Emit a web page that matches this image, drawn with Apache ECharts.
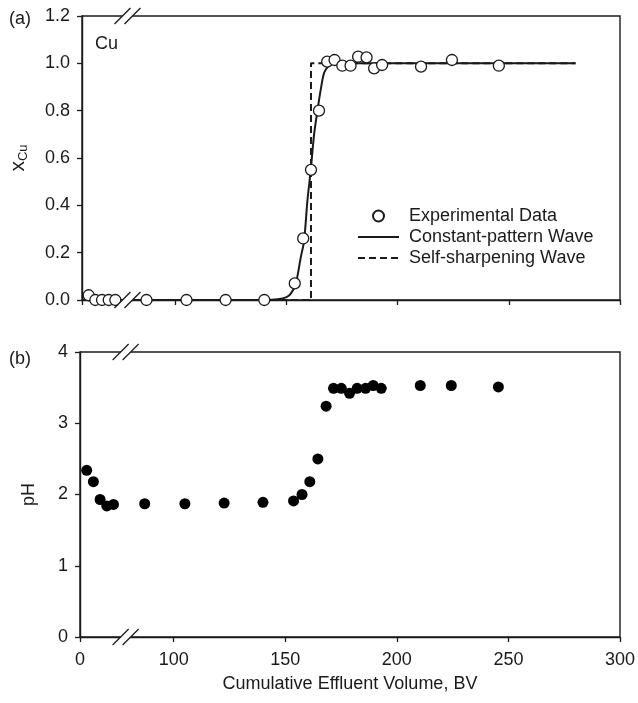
<!DOCTYPE html>
<html>
<head>
<meta charset="utf-8">
<script src="https://cdn.jsdelivr.net/npm/echarts@6.0.0/dist/echarts.min.js"></script>
<style>
  html, body { margin: 0; padding: 0; background: #fff; }
  #chart { width: 638px; height: 703px; }
</style>
</head>
<body>
<div id="chart"></div>
<script>
// sampled volumes (BV), shared by both panels
const volumeBV = [3, 6, 9, 12, 15, 87, 105, 122.6, 140, 153.7, 157.5, 161, 164.6, 168.3, 171.6, 175.1, 178.8, 182.2, 186, 189.4, 193, 210.5, 224.4, 245.5]
const xCuData = [0.02, 0, 0, 0, 0, 0, 0, 0, 0, 0.07, 0.26, 0.55, 0.80, 1.007, 1.014, 0.99, 0.99, 1.028, 1.025, 0.979, 0.993, 0.986, 1.014, 0.99]
const pHData = [2.34, 2.18, 1.93, 1.84, 1.86, 1.87, 1.87, 1.88, 1.89, 1.91, 2.0, 2.18, 2.5, 3.24, 3.49, 3.49, 3.42, 3.49, 3.49, 3.53, 3.49, 3.53, 3.53, 3.51]

// constant-pattern wave
const curveBV = [0, 20, 78, 140, 146, 150, 152, 154.2, 156.4, 157.9, 159.4, 160.9, 162.4, 163.9, 165.4, 166.9, 168.6, 170.6, 173, 280]
const curveX = [0, 0, 0, 0, 0.003, 0.012, 0.028, 0.07, 0.18, 0.25, 0.42, 0.55, 0.70, 0.80, 0.89, 0.96, 0.985, 0.997, 1.0, 1.0]

// self-sharpening wave
const sharpBV = [0, 20, 78, 161, 161, 280]
const sharpX = [0, 0, 0, 0, 1, 1]

const xTickLabels = [0, 100, 150, 200, 250, 300]

// broken x axis: 0-20 BV kept, 20-78 BV cut out
const BREAK_LO = 20
const BREAK_GAP = 58
function toAxis(v) {
  return v <= BREAK_LO ? v : v - BREAK_GAP
}
function fromAxis(a) {
  return a <= BREAK_LO ? a : a + BREAK_GAP
}
const pts = (xs, ys) => xs.map((x, i) => [toAxis(x), ys[i]])

const font = 'Liberation Sans, Arial, sans-serif'
const ink = '#1a1a1a'
const tickVals = xTickLabels.map(toAxis)

const chart = echarts.init(document.getElementById('chart'))

function xAxisCfg(idx, showLabels) {
  return {
    type: 'value',
    gridIndex: idx,
    min: 0,
    max: toAxis(300),
    splitLine: { show: false },
    axisLine: { lineStyle: { color: ink, width: 1.4 } },
    axisTick: { length: 5, customValues: tickVals, lineStyle: { color: ink, width: 1.3 } },
    axisLabel: {
      show: showLabels,
      customValues: tickVals,
      formatter: v => String(Math.round(fromAxis(v))),
      color: ink, fontSize: 18, fontFamily: font, margin: 14
    },
    name: showLabels ? 'Cumulative Effluent Volume, BV' : '',
    nameLocation: 'middle',
    nameGap: 38,
    nameTextStyle: { color: ink, fontSize: 18, fontFamily: font }
  }
}

const hideIcon = { opacity: 0 }

chart.setOption({
  animation: false,
  backgroundColor: '#fff',
  textStyle: { fontFamily: font },
  title: [
    { text: '(a)', left: 4, top: 5, textStyle: { fontSize: 18, fontWeight: 'normal', color: ink, fontFamily: font } },
    { text: '(b)', left: 4, top: 345, textStyle: { fontSize: 18, fontWeight: 'normal', color: ink, fontFamily: font } },
    { text: 'Cu', left: 90, top: 30, textStyle: { fontSize: 18, fontWeight: 'normal', color: ink, fontFamily: font } }
  ],
  grid: [
    { left: 80, right: 18, top: 16, height: 284, show: true, borderColor: ink, borderWidth: 1.4, backgroundColor: 'transparent' },
    { left: 80, right: 18, top: 352, height: 285, show: true, borderColor: ink, borderWidth: 1.4, backgroundColor: 'transparent' }
  ],
  legend: {
    orient: 'vertical',
    left: 352,
    top: 202,
    itemWidth: 41,
    itemHeight: 11,
    itemGap: 3,
    textStyle: { fontSize: 18, color: ink, fontFamily: font, lineHeight: 18, padding: [0, 0, 0, 5] },
    data: [
      { name: 'Experimental Data' },
      { name: 'Constant-pattern Wave', itemStyle: hideIcon },
      { name: 'Self-sharpening Wave', itemStyle: hideIcon }
    ]
  },
  xAxis: [xAxisCfg(0, false), xAxisCfg(1, true)],
  yAxis: [
    {
      type: 'value', gridIndex: 0, min: 0, max: 1.2, interval: 0.2,
      splitLine: { show: false },
      axisLine: { show: true, lineStyle: { color: ink, width: 1.4 } },
      axisTick: { show: true, length: 5, lineStyle: { color: ink, width: 1.3 } },
      axisLabel: { color: ink, fontSize: 18, fontFamily: font, margin: 12, formatter: v => v.toFixed(1) },
      name: '{x|x}{s|Cu}',
      nameLocation: 'middle',
      nameGap: 52,
      nameTextStyle: {
        rich: {
          x: { fontSize: 21, color: ink, fontFamily: font },
          s: { fontSize: 13, color: ink, fontFamily: font, padding: [10, 0, 0, 0] }
        }
      }
    },
    {
      type: 'value', gridIndex: 1, min: 0, max: 4, interval: 1,
      splitLine: { show: false },
      axisLine: { show: true, lineStyle: { color: ink, width: 1.4 } },
      axisTick: { show: true, length: 5, lineStyle: { color: ink, width: 1.3 } },
      axisLabel: { color: ink, fontSize: 18, fontFamily: font, margin: 12 },
      name: 'pH',
      nameLocation: 'middle',
      nameGap: 42,
      nameTextStyle: { color: ink, fontSize: 18, fontFamily: font }
    }
  ],
  series: [
    {
      name: 'Self-sharpening Wave',
      type: 'line',
      xAxisIndex: 0, yAxisIndex: 0,
      data: pts(sharpBV, sharpX),
      symbol: 'none',
      lineStyle: { color: ink, width: 2, type: [7, 4] },
      itemStyle: { color: ink },
      z: 2
    },
    {
      name: 'Constant-pattern Wave',
      type: 'line',
      xAxisIndex: 0, yAxisIndex: 0,
      data: pts(curveBV, curveX),
      smooth: 0.3,
      symbol: 'none',
      lineStyle: { color: ink, width: 2 },
      itemStyle: { color: ink },
      z: 3
    },
    {
      name: 'Experimental Data',
      type: 'scatter',
      xAxisIndex: 0, yAxisIndex: 0,
      data: pts(volumeBV, xCuData),
      symbol: 'circle',
      symbolSize: 11,
      itemStyle: { color: '#fff', borderColor: ink, borderWidth: 1.3, opacity: 1 },
      z: 4
    },
    {
      name: 'pH',
      type: 'scatter',
      xAxisIndex: 1, yAxisIndex: 1,
      data: pts(volumeBV, pHData),
      symbol: 'circle',
      symbolSize: 11,
      itemStyle: { color: '#000', opacity: 1 },
      z: 4
    }
  ]
})

// axis-break marks "//" on the top and bottom frame of each panel
function breakMark(cx, cy) {
  const d = 8, w = 5
  return [
    { type: 'polygon', z: 100, shape: { points: [[cx - w - d, cy + d], [cx - w + d, cy - d], [cx + w + d, cy - d], [cx + w - d, cy + d]] }, style: { fill: '#fff' } },
    { type: 'line', z: 101, shape: { x1: cx - w - d, y1: cy + d, x2: cx - w + d, y2: cy - d }, style: { stroke: ink, lineWidth: 1.3 } },
    { type: 'line', z: 101, shape: { x1: cx + w - d, y1: cy + d, x2: cx + w + d, y2: cy - d }, style: { stroke: ink, lineWidth: 1.3 } }
  ]
}
const marks = []
;[0, 1].forEach(g => {
  const ymax = g === 0 ? 1.2 : 4
  const top = chart.convertToPixel({ gridIndex: g }, [BREAK_LO, ymax])
  const bot = chart.convertToPixel({ gridIndex: g }, [BREAK_LO, 0])
  marks.push(...breakMark(top[0] + 1, top[1]), ...breakMark(bot[0] + 1, bot[1]))
})
chart.setOption({ graphic: marks })
</script>
</body>
</html>
